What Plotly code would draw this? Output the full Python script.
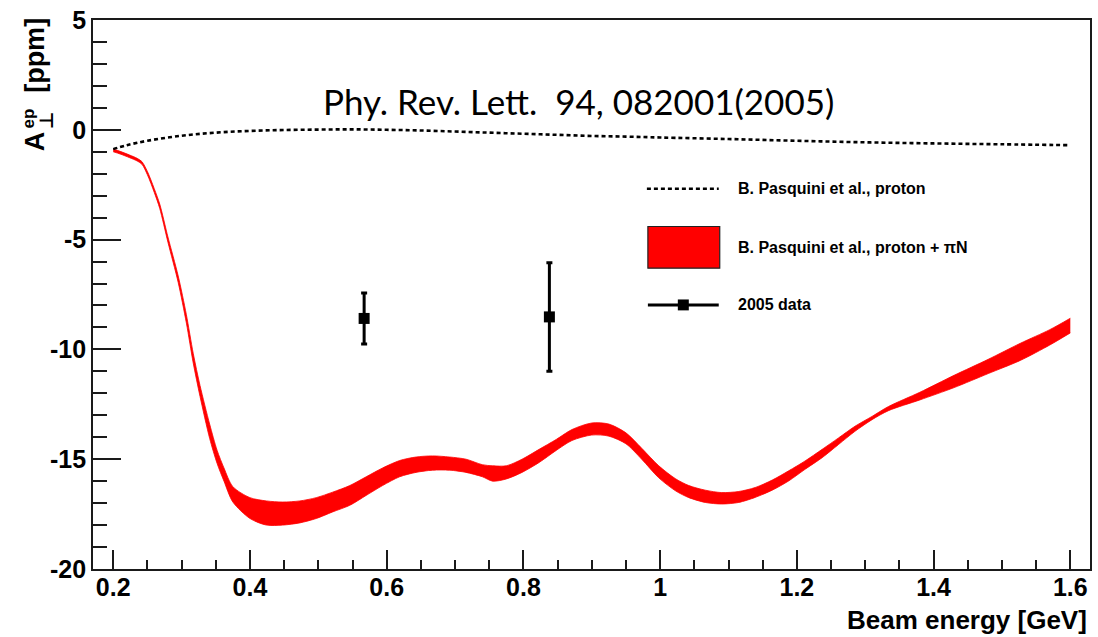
import plotly.graph_objects as go

# Beam asymmetry prediction for proton only (dotted curve)
proton_x = [0.20, 0.22, 0.25, 0.30, 0.35, 0.40, 0.45, 0.50, 0.55, 0.60, 0.65, 0.70,
            0.75, 0.80, 0.85, 0.90, 0.95, 1.00, 1.10, 1.20, 1.30, 1.40, 1.50, 1.60]
proton_y = [-0.88, -0.70, -0.50, -0.27, -0.13, -0.05, -0.01, 0.01, 0.02, 0.00, -0.03, -0.08,
            -0.13, -0.18, -0.23, -0.28, -0.31, -0.35, -0.42, -0.50, -0.57, -0.62, -0.66, -0.70]

# Proton + piN prediction band (lower / upper edges)
band_x = [0.200, 0.210, 0.224, 0.235, 0.242, 0.250, 0.260, 0.268, 0.280, 0.295, 0.307, 0.317,
          0.327, 0.341, 0.352, 0.362, 0.375, 0.400, 0.424, 0.448, 0.473, 0.497, 0.521, 0.546,
          0.570, 0.594, 0.619, 0.643, 0.667, 0.692, 0.716, 0.740, 0.755, 0.775, 0.798, 0.823,
          0.848, 0.871, 0.900, 0.925, 0.950, 0.973, 0.998, 1.023, 1.042, 1.066, 1.090, 1.115,
          1.139, 1.164, 1.188, 1.212, 1.237, 1.261, 1.285, 1.310, 1.334, 1.380, 1.430, 1.480,
          1.527, 1.570, 1.600]
band_lo = [-1.00, -1.10, -1.27, -1.42, -1.57, -2.05, -2.85, -3.58, -5.12, -6.95, -8.80, -10.62,
           -12.15, -14.05, -15.20, -16.00, -16.95, -17.70, -18.00, -18.00, -17.90, -17.70, -17.40, -17.10,
           -16.65, -16.20, -15.80, -15.60, -15.50, -15.50, -15.60, -15.80, -16.00, -15.90, -15.60, -15.15,
           -14.60, -14.15, -13.90, -13.95, -14.30, -15.00, -15.85, -16.45, -16.75, -16.97, -17.04, -16.97,
           -16.74, -16.41, -15.99, -15.46, -14.93, -14.33, -13.73, -13.20, -12.79, -12.30, -11.74, -11.10,
           -10.50, -9.80, -9.25]
band_hi = [-0.88, -0.98, -1.15, -1.30, -1.45, -1.90, -2.68, -3.38, -4.88, -6.65, -8.42, -10.18,
           -11.65, -13.40, -14.60, -15.40, -16.25, -16.75, -16.90, -16.95, -16.90, -16.75, -16.50, -16.20,
           -15.80, -15.40, -15.06, -14.90, -14.85, -14.90, -15.00, -15.25, -15.30, -15.30, -15.00, -14.55,
           -14.10, -13.65, -13.35, -13.40, -13.80, -14.50, -15.30, -15.90, -16.20, -16.41, -16.52, -16.47,
           -16.29, -15.95, -15.53, -15.08, -14.55, -14.03, -13.50, -13.05, -12.60, -11.95, -11.18, -10.45,
           -9.72, -9.10, -8.58]

# 2005 measurements
data_x = [0.567, 0.838]
data_y = [-8.59, -8.52]
data_err = [1.16, 2.47]

xtick_vals = [0.2, 0.4, 0.6, 0.8, 1.0, 1.2, 1.4, 1.6]
xtick_text = ["0.2", "0.4", "0.6", "0.8", "1", "1.2", "1.4", "1.6"]
ytick_vals = [-20, -15, -10, -5, 0, 5]
ytick_text = ["-20", "-15", "-10", "-5", "0", "5"]

W, H = 1098, 637
ML, MR, MT, MB = 93, 6, 16, 68
PW, PH = W - ML - MR, H - MT - MB


def px(x):
    return (x - ML) / PW


def py(y):
    return (H - MB - y) / PH


BOLD = "Liberation Sans, Arial, sans-serif"
AXC = "#1a1a1a"

fig = go.Figure()

fig.add_trace(go.Scatter(x=band_x, y=band_lo, mode="lines",
                         line=dict(color="#ff0000", width=0.8, shape="spline", smoothing=0.8),
                         showlegend=False, hoverinfo="skip"))
fig.add_trace(go.Scatter(x=band_x, y=band_hi, mode="lines", fill="tonexty",
                         fillcolor="#ff0000",
                         line=dict(color="#ff0000", width=0.8, shape="spline", smoothing=0.8),
                         showlegend=False))

fig.add_trace(go.Scatter(x=proton_x, y=proton_y, mode="lines",
                         line=dict(color="black", width=2.6, dash="4px,3px", shape="spline"),
                         showlegend=False))

fig.add_trace(go.Scatter(x=data_x, y=data_y, mode="markers",
                         marker=dict(symbol="square", size=11, color="black"),
                         error_y=dict(type="data", array=data_err, color="black",
                                      thickness=3, width=3),
                         showlegend=False))

axis_common = dict(showline=True, mirror=True, linecolor=AXC, linewidth=1.6,
                   ticks="inside", tickcolor=AXC, tickwidth=1.6, showgrid=False,
                   zeroline=False, tickmode="array",
                   tickfont=dict(family=BOLD, size=25, color="black", weight="bold"))

fig.update_xaxes(range=[0.1704, 1.6288], tickvals=xtick_vals, ticktext=xtick_text,
                 ticklen=19, ticklabelstandoff=-5,
                 minor=dict(ticks="inside", ticklen=9, tickwidth=1.6, tickcolor=AXC,
                            dtick=0.05, tick0=0.0, showgrid=False),
                 **axis_common)
fig.update_yaxes(range=[-20, 5], tickvals=ytick_vals, ticktext=ytick_text,
                 ticklen=28,
                 minor=dict(ticks="inside", ticklen=14, tickwidth=1.6, tickcolor=AXC,
                            dtick=1, tick0=0, showgrid=False),
                 **axis_common)

ann = []
# x axis title
ann.append(dict(x=px(1091), y=py(620), xref="paper", yref="paper", xanchor="right",
                yanchor="middle", text="Beam energy [GeV]", showarrow=False,
                font=dict(family=BOLD, size=26, color="black", weight="bold")))
# y axis title pieces
ann.append(dict(x=px(35), y=py(52), xref="paper", yref="paper", textangle=-90,
                xanchor="center", yanchor="middle", text="[ppm]", showarrow=False,
                font=dict(family=BOLD, size=27, color="black", weight="bold")))
ann.append(dict(x=px(35), y=py(138), xref="paper", yref="paper", textangle=-90,
                xanchor="center", yanchor="middle", text="A", showarrow=False,
                font=dict(family=BOLD, size=27, color="black", weight="bold")))
ann.append(dict(x=px(28), y=py(115), xref="paper", yref="paper", textangle=-90,
                xanchor="center", yanchor="middle", text="ep", showarrow=False,
                font=dict(family=BOLD, size=17, color="black", weight="bold")))
ann.append(dict(x=px(46), y=py(118), xref="paper", yref="paper", textangle=-90,
                xanchor="center", yanchor="middle", text="⊥", showarrow=False,
                font=dict(family="DejaVu Sans", size=19, color="black", weight="bold")))
# reference note
ann.append(dict(x=px(579), y=py(98), xref="paper", yref="paper", xanchor="center",
                yanchor="middle", text="Phy. Rev. Lett.  94, 082001(2005)", showarrow=False,
                font=dict(family="Lato", size=35, color="black")))

# legend
LEG = dict(family=BOLD, size=16, color="black", weight="bold")
leg_rows = [(186, "B. Pasquini et al., proton"),
            (245, "B. Pasquini et al., proton + πN"),
            (303, "2005 data")]
for yy, txt in leg_rows:
    ann.append(dict(x=px(737), y=py(yy), xref="paper", yref="paper", xanchor="left",
                    yanchor="middle", text=txt, showarrow=False, font=LEG))

shapes = [
    dict(type="line", xref="paper", yref="paper", x0=px(648), x1=px(720),
         y0=py(186), y1=py(186), line=dict(color="black", width=2.6, dash="4px,3px")),
    dict(type="rect", xref="paper", yref="paper", x0=px(649), x1=px(721),
         y0=py(266), y1=py(224), fillcolor="#ff0000", line=dict(color="#222", width=1.2)),
    dict(type="line", xref="paper", yref="paper", x0=px(649), x1=px(720),
         y0=py(303), y1=py(303), line=dict(color="black", width=3)),
    dict(type="rect", xref="paper", yref="paper", x0=px(679), x1=px(690),
         y0=py(308.5), y1=py(297.5), fillcolor="black", line=dict(width=0)),
]

fig.update_layout(width=W, height=H, margin=dict(l=ML, r=MR, t=MT, b=MB),
                  paper_bgcolor="white", plot_bgcolor="white",
                  annotations=ann, shapes=shapes, showlegend=False)

fig.write_html("out.html")
